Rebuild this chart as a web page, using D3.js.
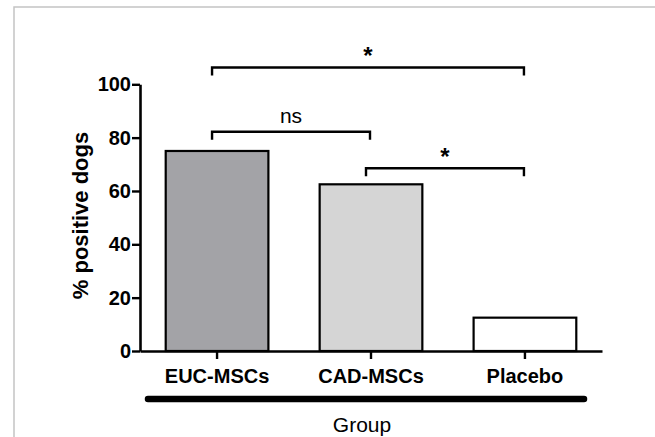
<!DOCTYPE html>
<html>
<head>
<meta charset="utf-8">
<script src="https://cdn.jsdelivr.net/npm/d3@7"></script>
<style>
    body { margin: 0; background: #fff; }
    svg { display: block; font-family: "Liberation Sans", Arial, sans-serif; }
</style>
</head>
<body>
<svg id="chart" width="655" height="437"></svg>
<script>
// data
const groups = ['EUC-MSCs', 'CAD-MSCs', 'Placebo'];
const positive = [75, 62.5, 12.5];
const yTicks = [0, 20, 40, 60, 80, 100];
// significance brackets: from group, to group, label, bracket level (in % units)
const compFrom = ['EUC-MSCs', 'EUC-MSCs', 'CAD-MSCs'];
const compTo = ['Placebo', 'CAD-MSCs', 'Placebo'];
const compLabel = ['*', 'ns', '*'];
const compLevel = [106.3, 82.2, 68.5];

const barColors = d3.scaleOrdinal()
    .domain(groups)
    .range(['#a3a3a7', '#d5d5d5', '#ffffff']);

const svg = d3.select('#chart');

// frame
svg.append('path')
    .attr('d', 'M14,437 V7 H655')
    .attr('fill', 'none')
    .attr('stroke', '#c4c4c4')
    .attr('stroke-width', 1.5);

const x = d3.scaleBand()
    .domain(groups)
    .range([140, 602])
    .paddingInner(0.333)
    .paddingOuter(0.167);

const y = d3.scaleLinear()
    .domain([0, 100])
    .range([351, 84.3]);

const data = groups.map((g, i) => ({group: g, value: positive[i]}));

// bars
svg.append('g')
    .selectAll('rect')
    .data(data)
    .join('rect')
    .attr('x', d => x(d.group))
    .attr('y', d => y(d.value))
    .attr('width', x.bandwidth())
    .attr('height', d => y(0) - y(d.value))
    .attr('fill', d => barColors(d.group))
    .attr('stroke', '#000')
    .attr('stroke-width', 2.2);

// y axis
const yAxis = svg.append('g')
    .attr('transform', 'translate(140,0)')
    .call(d3.axisLeft(y).tickValues(yTicks).tickSize(8).tickSizeOuter(0).tickPadding(1));
yAxis.select('.domain').attr('stroke-width', 2.6);
yAxis.selectAll('.tick line').attr('stroke-width', 2.4);
yAxis.selectAll('.tick text')
    .attr('font-size', 20)
    .attr('font-weight', 'bold')
    .attr('font-family', '"Liberation Sans", Arial, sans-serif')
    .attr('fill', '#000');

// x axis
const xAxis = svg.append('g')
    .attr('transform', `translate(0,${y(0)})`)
    .call(d3.axisBottom(x).tickSize(8).tickSizeOuter(0).tickPadding(10));
xAxis.select('.domain').attr('stroke-width', 2.6);
xAxis.selectAll('.tick line').attr('stroke-width', 2.4);
xAxis.selectAll('.tick text')
    .attr('font-size', 20)
    .attr('font-weight', 'bold')
    .attr('font-family', '"Liberation Sans", Arial, sans-serif')
    .attr('fill', '#000');

// thick group bar under the axis
svg.append('line')
    .attr('x1', 148).attr('x2', 584)
    .attr('y1', 399).attr('y2', 399)
    .attr('stroke', '#000')
    .attr('stroke-width', 6.5)
    .attr('stroke-linecap', 'round');

svg.append('text')
    .attr('x', 362)
    .attr('y', 432)
    .attr('text-anchor', 'middle')
    .attr('font-size', 21)
    .text('Group');

svg.append('text')
    .attr('transform', `translate(88,${(131 + 300) / 2}) rotate(-90)`)
    .attr('text-anchor', 'middle')
    .attr('font-size', 22)
    .attr('font-weight', 'bold')
    .text('% positive dogs');

// significance brackets
const comps = compFrom.map((f, i) => ({from: f, to: compTo[i], label: compLabel[i], level: compLevel[i]}));
const cx = g => x(g) + x.bandwidth() / 2;

const br = svg.append('g')
    .selectAll('g')
    .data(comps)
    .join('g');

br.append('path')
    .attr('d', d => {
        const x1 = cx(d.from) - 5, x2 = cx(d.to) - 1, yy = y(d.level);
        return `M${x1},${yy + 8} V${yy} H${x2} V${yy + 8}`;
    })
    .attr('fill', 'none')
    .attr('stroke', '#000')
    .attr('stroke-width', 2.4);

br.append('text')
    .attr('x', d => (cx(d.from) - 5 + cx(d.to) - 1) / 2)
    .attr('y', d => y(d.level) - (d.label === '*' ? 3 : 9))
    .attr('text-anchor', 'middle')
    .attr('font-size', d => d.label === '*' ? 24 : 21)
    .attr('font-weight', d => d.label === '*' ? 'bold' : 'normal')
    .text(d => d.label);
</script>
</body>
</html>
